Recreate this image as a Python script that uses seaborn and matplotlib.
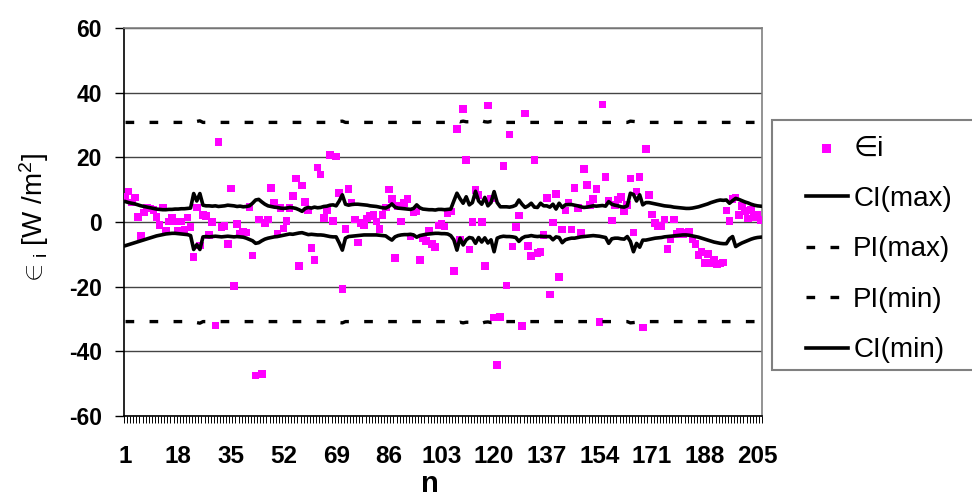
import numpy as np
import pandas as pd
import matplotlib
matplotlib.use("Agg")
import matplotlib.pyplot as plt
import seaborn as sns
from matplotlib.ticker import FixedLocator
from matplotlib.patches import Rectangle

# ---------------- data ----------------
EPS = [
    7.8, 9.4, 6.0, 7.6, 1.6, -4.3, 2.9, 4.5, 4.2, 3.7,
    1.6, -0.9, 4.5, -2.7, 0.1, 1.4, 0.1, -2.7, 0.1, -2.3,
    1.4, -1.6, -10.9, 4.5, -7.3, 2.2, 1.9, -4.0, 0.0, -32.0,
    24.8, -1.6, -1.2, -6.8, 10.4, -19.8, -0.7, -3.7, -3.0, -3.3,
    4.7, -10.4, -47.5, 0.8, -47.0, -0.4, 0.8, 10.6, 5.8, -3.5,
    4.4, -2.0, 0.4, 4.4, 8.0, 13.4, -13.6, 11.3, 6.1, 3.5,
    -8.1, -11.8, 16.9, 14.7, 1.3, 3.7, 20.7, 0.4, 20.2, 8.9,
    -20.8, -2.2, 10.3, 6.0, 0.8, -6.4, -0.4, -1.1, 1.1, 1.9,
    2.2, 0.1, -2.1, 2.2, 4.5, 10.1, 7.2, -11.1, 4.9, 0.1,
    5.8, 7.2, -4.5, 2.9, 3.4, -11.8, -5.1, -5.9, -2.7, -6.8,
    -7.8, -1.1, -0.6, -1.4, 2.7, 3.2, -15.2, 28.8, -5.4, 35.0,
    19.2, -8.5, 0.0, 9.9, 8.4, 0.0, -13.6, 36.0, 7.3, -29.5,
    -44.2, -29.3, 17.4, -19.6, 27.1, -7.6, -1.6, 2.0, -32.2, 33.6,
    -7.4, -10.5, 19.2, -9.5, -9.2, -4.0, 7.5, -22.4, -0.2, 8.7,
    -17.1, -2.3, 3.6, 6.0, -2.3, 10.6, 4.4, -3.2, 16.3, 11.4,
    5.3, 7.1, 10.2, -30.9, 36.4, 14.0, 6.6, 0.5, 5.3, 7.0,
    7.8, 3.2, 5.3, 13.5, -3.3, 9.4, 13.9, -32.6, 22.6, 8.4,
    2.3, -0.4, -1.2, -1.4, 0.8, -8.4, -5.4, 0.8, -3.7, -3.0,
    -3.7, -3.3, -3.0, -5.4, -6.8, -10.2, -9.2, -12.6, -9.9, -12.6,
    -11.8, -13.0, -12.8, -12.5, 3.5, 0.3, 7.1, 7.6, 2.2, 4.9,
    3.4, 1.1, 3.7, 1.6, 2.2, 0.7,
]

CI_MAX = [
    6.3, 6.0, 5.8, 5.6, 5.3, 5.0, 4.8, 4.6, 4.4, 4.2,
    4.0, 3.9, 3.8, 3.8, 3.9, 3.9, 4.0, 4.0, 4.1, 4.1,
    4.2, 4.3, 8.8, 6.5, 8.8, 5.2, 5.0, 5.0, 4.9, 5.0,
    4.8, 4.9, 5.0, 5.2, 5.1, 5.0, 4.8, 4.9, 4.7, 4.8,
    5.0, 5.8, 6.8, 7.0, 6.2, 5.5, 5.0, 4.8, 4.6, 4.5,
    4.3, 4.2, 4.3, 4.5, 4.4, 4.2, 3.8, 3.3, 4.2, 4.5,
    4.3, 4.6, 4.4, 4.5, 4.8, 4.9, 5.2, 5.3, 5.0, 6.5,
    8.4, 5.5, 5.2, 5.4, 5.5, 5.5, 5.4, 5.3, 5.2, 5.0,
    4.9, 4.8, 4.6, 4.4, 4.3, 4.8, 5.6, 4.6, 4.3, 4.2,
    4.1, 4.0, 3.9, 4.2, 5.3, 4.4, 4.0, 3.9, 3.8, 3.8,
    3.7, 3.9, 3.9, 3.8, 3.9, 4.0, 6.5, 8.9, 7.2, 5.8,
    7.8, 5.3, 6.0, 9.5, 6.5, 5.5, 7.6, 5.0, 6.0, 9.4,
    6.0, 4.7, 4.7, 4.7, 4.6, 4.8, 5.2, 6.8, 5.5, 4.5,
    5.0, 5.8, 4.6, 4.5, 5.8, 5.0, 5.0, 4.6, 5.5, 4.0,
    5.8, 4.5, 5.3, 5.4, 5.4, 5.2, 5.0, 4.7, 4.5, 4.6,
    4.8, 5.0, 4.9, 5.0, 5.1, 4.9, 6.3, 5.5, 5.2, 5.0,
    4.7, 4.6, 5.0, 8.9, 8.5, 6.5, 8.4, 5.3, 6.0, 6.0,
    5.8, 5.6, 5.4, 5.2, 5.0, 4.9, 4.8, 4.6, 4.5, 4.4,
    4.3, 4.2, 4.2, 4.3, 4.5, 4.7, 5.0, 5.3, 5.6, 6.0,
    6.3, 6.6, 6.8, 6.7, 6.8, 5.8, 6.6, 7.3, 7.0, 6.6,
    6.2, 5.9, 5.5, 5.2, 5.0, 4.9,
]

CI_MIN = [
    -7.3, -7.0, -6.7, -6.4, -6.1, -5.8, -5.5, -5.2, -4.9, -4.6,
    -4.3, -4.1, -3.9, -3.7, -3.6, -3.5, -3.5, -3.6, -3.7, -3.8,
    -3.9, -4.2, -8.5, -7.0, -8.5, -4.6, -4.5, -4.6, -4.5, -4.4,
    -4.5, -4.6, -4.5, -4.4, -4.5, -4.6, -4.5, -4.6, -4.7, -5.0,
    -5.4, -5.8, -6.6, -6.4, -5.8, -5.3, -5.0, -4.8, -4.6, -4.5,
    -4.3, -4.1, -3.9, -3.7, -3.8, -3.6, -3.4, -3.3, -3.6, -3.9,
    -3.8, -3.9, -4.0, -4.0, -4.1, -4.3, -4.5, -4.6, -4.6, -6.5,
    -8.7, -5.0, -4.5, -4.4, -4.3, -4.2, -4.1, -4.0, -4.0, -4.0,
    -4.0, -4.0, -4.1, -4.2, -4.3, -5.0, -5.6, -4.6, -4.2, -4.0,
    -3.9, -3.9, -3.8, -4.0, -4.7, -4.2, -4.0, -3.8, -3.7, -3.6,
    -3.5, -3.5, -3.6, -3.6, -3.7, -4.2, -5.5, -8.7, -5.0, -7.1,
    -5.5, -4.8, -5.0, -6.6, -4.8, -6.2, -4.9, -6.5, -5.5, -9.2,
    -5.0, -4.6, -4.4, -4.5, -4.5, -4.6, -4.8, -6.0, -5.0, -4.5,
    -4.4, -4.2, -4.4, -4.5, -4.4, -4.5, -4.5, -4.5, -5.5, -4.6,
    -4.8, -6.4, -5.5, -5.2, -5.0, -5.0, -4.8, -4.6, -4.5, -4.4,
    -4.3, -4.2, -4.3, -4.4, -4.6, -4.8, -6.6, -5.2, -5.0, -5.0,
    -5.2, -5.3, -4.5, -6.0, -9.2, -6.6, -7.8, -5.6, -5.6, -5.4,
    -5.2, -5.0, -4.9, -4.8, -4.6, -4.5, -4.4, -4.3, -4.2, -4.1,
    -4.0, -4.0, -4.1, -4.3, -4.5, -4.7, -5.0, -5.3, -5.6, -5.9,
    -6.2, -6.4, -6.6, -6.7, -6.7, -5.2, -4.5, -7.6, -7.0, -6.5,
    -6.1, -5.7, -5.3, -5.0, -4.8, -4.7,
]

PI_MAX = ([30.8] * 22 + [31.3, 31.1, 31.3] + [30.8] * 44 + [31.1, 31.2]
          + [30.8] * 35 + [31.1, 31.3, 31.0, 31.2, 31.0, 31.0, 31.3, 30.9,
                           31.0, 31.3, 31.0, 30.9, 31.1, 31.0, 31.3]
          + [30.8] * 42 + [31.2, 31.1, 31.0, 31.1] + [30.8] * 39)
PI_MIN = [-v for v in PI_MAX]

X_TICK_LABELS = [1, 18, 35, 52, 69, 86, 103, 120, 137, 154, 171, 188, 205]
Y_TICKS = [-60, -40, -20, 0, 20, 40, 60]

SERIES_LABELS = ["\u2208i", "CI(max)", "PI(max)", "PI(min)", "CI(min)"]

# ---------------- figure ----------------
plt.rcParams["font.family"] = ["Liberation Sans", "DejaVu Sans"]
plt.rcParams["mathtext.fontset"] = "custom"
plt.rcParams["mathtext.rm"] = "Liberation Sans"
plt.rcParams["mathtext.it"] = "Liberation Sans"

n = np.arange(1, len(EPS) + 1)
df = pd.DataFrame({"n": n, "eps": EPS, "ci_max": CI_MAX, "ci_min": CI_MIN,
                   "pi_max": PI_MAX, "pi_min": PI_MIN})

W, H = 972, 500
fig = plt.figure(figsize=(W / 100, H / 100), dpi=100)
ax = fig.add_axes([124 / W, (H - 416) / H, (762 - 124) / W, (416 - 28) / H])

sns.scatterplot(data=df, x="n", y="eps", marker="s", color="#FF00FF", s=30,
                edgecolor="none", linewidth=0, ax=ax, label=SERIES_LABELS[0],
                zorder=3)
sns.lineplot(data=df, x="n", y="ci_max", color="black", lw=2.6, ax=ax,
             label=SERIES_LABELS[1], zorder=4)
sns.lineplot(data=df, x="n", y="pi_max", color="black", lw=2.4, ax=ax,
             linestyle=(0, (2.6, 4.6)), label=SERIES_LABELS[2], zorder=4)
sns.lineplot(data=df, x="n", y="pi_min", color="black", lw=2.4, ax=ax,
             linestyle=(0, (2.6, 4.6)), label=SERIES_LABELS[3], zorder=4)
sns.lineplot(data=df, x="n", y="ci_min", color="black", lw=2.6, ax=ax,
             label=SERIES_LABELS[4], zorder=4)

ax.set_xlim(0.5, len(EPS) + 0.5)
ax.set_ylim(-60, 60)
ax.set_yticks(Y_TICKS)
ax.set_yticklabels([str(t) for t in Y_TICKS], fontsize=16.5, fontweight="bold")
ax.xaxis.set_major_locator(FixedLocator(X_TICK_LABELS))
ax.set_xticklabels([str(t) for t in X_TICK_LABELS], fontsize=17.5,
                   fontweight="bold")
ax.xaxis.set_minor_locator(FixedLocator(np.arange(0.5, len(EPS) + 1, 1.0)))
ax.tick_params(axis="x", which="major", length=0, pad=21)
ax.tick_params(axis="x", which="minor", length=5, width=0.7, direction="out",
               color="black")
ax.tick_params(axis="y", which="major", length=6.5, width=1.0,
               direction="out", pad=9.5, color="black")

ax.yaxis.grid(True, color="#444444", lw=1.0)
ax.set_axisbelow(True)
for s in ["top", "right"]:
    ax.spines[s].set_color("#808080")
    ax.spines[s].set_linewidth(1.2)
for s in ["left", "bottom"]:
    ax.spines[s].set_color("black")
    ax.spines[s].set_linewidth(1.2)

ax.set_xlabel("")
ax.set_ylabel("")
fig.text(430 / W, 1 - 484 / H, "n", fontsize=21, fontweight="bold",
         ha="center", va="center")
fig.text(34 / W, 1 - 220 / H, r"$\in_\mathregular{i}$ [W /m$^\mathregular{2}$]",
         fontsize=20, rotation=90, ha="center", va="center")

# legend frame (extends past the right edge, as in the reference)
fig.patches.append(Rectangle((772 / W, 1 - 370 / H), 220 / W, 250 / H,
                             transform=fig.transFigure, facecolor="white",
                             edgecolor="#808080", lw=1.5, zorder=-1))

handles, labels = ax.get_legend_handles_labels()
order = [labels.index(l) for l in SERIES_LABELS]
leg = ax.legend([handles[i] for i in order], [labels[i] for i in order],
                loc="upper left", bbox_to_anchor=(806 / W, 1 - 135.5 / H),
                bbox_transform=fig.transFigure, fontsize=20, frameon=False,
                handlelength=1.5, handletextpad=0.2, borderpad=0,
                labelspacing=0.88, borderaxespad=0, markerscale=1.2)
leg.set_zorder(10)

fig.savefig("out.png", dpi=100)
